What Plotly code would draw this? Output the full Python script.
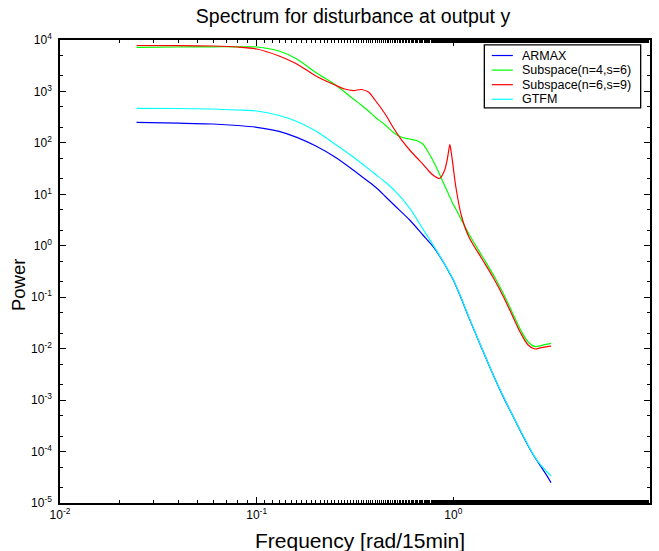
import plotly.graph_objects as go

# Frequency grids [rad/15min]
freq_smooth = [0.0245, 0.04, 0.06, 0.08, 0.1, 0.13, 0.16, 0.2, 0.25, 0.3, 0.35, 0.4, 0.45, 0.5,
               0.6, 0.7, 0.8, 0.9, 0.95, 1.0, 1.1, 1.2, 1.4, 1.6, 1.8, 2.0, 2.2, 2.4, 2.6, 2.8, 3.0, 3.14]
freq_sub = [0.0245, 0.04, 0.06, 0.08, 0.1, 0.13, 0.16, 0.2, 0.25, 0.28, 0.31, 0.34, 0.37, 0.4, 0.45, 0.5,
            0.55, 0.6, 0.65, 0.7, 0.75, 0.8, 0.85, 0.9, 0.93, 0.945, 0.96, 0.975, 0.99, 1.03, 1.1, 1.2,
            1.4, 1.6, 1.8, 2.0, 2.2, 2.4, 2.6, 2.8, 3.0, 3.14]

armax = [251, 243, 233, 218, 201, 167, 128, 86.9, 53.2, 32.5, 20.7, 14.0, 9.2, 6.2,
         3.17, 1.62, 0.904, 0.448, 0.309, 0.216, 0.0923, 0.0401, 0.00984, 0.00301, 0.00113,
         5.06e-4, 2.45e-4, 1.30e-4, 7.65e-5, 5.0e-5, 3.34e-5, 2.48e-5]
gtfm = [470, 466, 456, 436, 417, 341, 261, 170, 95.1, 58.1, 37.1, 24.8, 17.4, 12.1,
        5.42, 2.12, 0.95, 0.455, 0.315, 0.22, 0.094, 0.041, 0.0100, 0.00305, 0.00115,
        5.1e-4, 2.5e-4, 1.33e-4, 7.8e-5, 5.3e-5, 4.0e-5, 3.34e-5]
sub_n4 = [7210, 7310, 7380, 7380, 7310, 6110, 4270, 2330, 1360, 975, 713, 545, 417, 319, 223, 156,
          127, 119, 111, 95.1, 63.5, 40.6, 24.8, 15.2, 11.6, 10.2, 8.87, 7.8, 6.78, 5.19, 3.17, 1.69,
          0.632, 0.270, 0.115, 0.0493, 0.0230, 0.0135, 0.0110, 0.0115, 0.0123, 0.0127]
sub_n6 = [7820, 7785, 7640, 7310, 6680, 4890, 3415, 2000, 1334, 1115, 1042, 1091, 973, 682, 364, 186,
          109, 72.7, 52.0, 38.8, 28.4, 22.6, 20.3, 28.4, 46.4, 66.6, 93.0, 66.6, 44.3, 13.9, 3.79, 1.48,
          0.553, 0.236, 0.101, 0.0431, 0.0201, 0.0118, 0.00985, 0.0105, 0.0110, 0.0112]

series_names = ["ARMAX", "Subspace(n=4,s=6)", "Subspace(n=6,s=9)", "GTFM"]
series_x = [freq_smooth, freq_sub, freq_sub, freq_smooth]
series_y = [armax, sub_n4, sub_n6, gtfm]
series_colors = ["#0000FF", "#00FF00", "#FF0000", "#00FFFF"]

x_tickvals = [1e-2, 1e-1, 1e0, 1e1]
x_ticktext = ["10<sup>-2</sup>", "10<sup>-1</sup>", "10<sup>0</sup>", "10<sup>1</sup>"]
y_tickvals = [10.0 ** k for k in range(-5, 5)]
y_ticktext = ["10<sup>%d</sup>" % k for k in range(-5, 5)]

FONT = "Liberation Sans, Arial, sans-serif"

fig = go.Figure()
for name, fx, fy, col in zip(series_names, series_x, series_y, series_colors):
    fig.add_trace(go.Scatter(x=fx, y=fy, mode="lines", name=name, showlegend=False,
                             line=dict(color=col, width=1.2, shape="spline", smoothing=0.8)))

axis_common = dict(
    type="log", showline=True, linecolor="black", linewidth=1.5, mirror="allticks",
    ticks="inside", ticklen=6, tickcolor="black", tickwidth=1, showgrid=False, zeroline=False,
    automargin=False,
    tickfont=dict(family=FONT, size=12, color="black"),
    minor=dict(ticks="inside", ticklen=3, tickcolor="black", showgrid=False),
)

fig.update_xaxes(range=[-2, 1], tickmode="array", tickvals=x_tickvals, ticktext=x_ticktext, **axis_common)
fig.update_yaxes(range=[-5, 4], tickmode="array", tickvals=y_tickvals, ticktext=y_ticktext,
                 ticklabelstandoff=4, **axis_common)

# Legend box drawn in the upper-right corner (MATLAB-style compact legend)
leg_x0, leg_x1, leg_top, leg_bot = 0.7192, 0.9842, 0.9896, 0.8536
leg_line_x0, leg_line_x1, leg_text_x = 0.7319, 0.7675, 0.7802
leg_rows = [0.9665, 0.9350, 0.9035, 0.8720]

shapes = [dict(type="rect", xref="paper", yref="paper", x0=leg_x0, x1=leg_x1, y0=leg_bot, y1=leg_top,
               line=dict(color="black", width=1.3), fillcolor="white", layer="above")]
annotations = []
for name, col, ry in zip(series_names, series_colors, leg_rows):
    shapes.append(dict(type="line", xref="paper", yref="paper", x0=leg_line_x0, x1=leg_line_x1,
                       y0=ry, y1=ry, line=dict(color=col, width=1.2), layer="above"))
    annotations.append(dict(text=name, xref="paper", yref="paper", x=leg_text_x, y=ry,
                            xanchor="left", yanchor="middle", showarrow=False,
                            font=dict(family=FONT, size=12.5, color="black")))

annotations.append(dict(text="Frequency [rad/15min]", xref="paper", yref="paper", x=0.5085, y=-0.0800,
                        xanchor="center", yanchor="middle", showarrow=False,
                        font=dict(family=FONT, size=21, color="black")))
annotations.append(dict(text="Power", xref="paper", yref="paper", x=-0.0712, y=0.4708,
                        xanchor="center", yanchor="middle", showarrow=False, textangle=-90,
                        font=dict(family=FONT, size=18.5, color="black")))

fig.update_layout(
    width=659, height=551,
    margin=dict(l=60, r=9, t=40, b=48, autoexpand=False),
    paper_bgcolor="white", plot_bgcolor="white",
    title=dict(text="Spectrum for disturbance at output y", x=0.5357, xanchor="center",
               yref="container", y=0.970, yanchor="middle",
               font=dict(family=FONT, size=19.5, color="black")),
    shapes=shapes,
    annotations=annotations,
    showlegend=False,
)

# remove the default 8 px page margin so the figure fills the window exactly
fig.write_html("out.html", config={"displayModeBar": False},
               post_script="document.body.style.margin='0';")
